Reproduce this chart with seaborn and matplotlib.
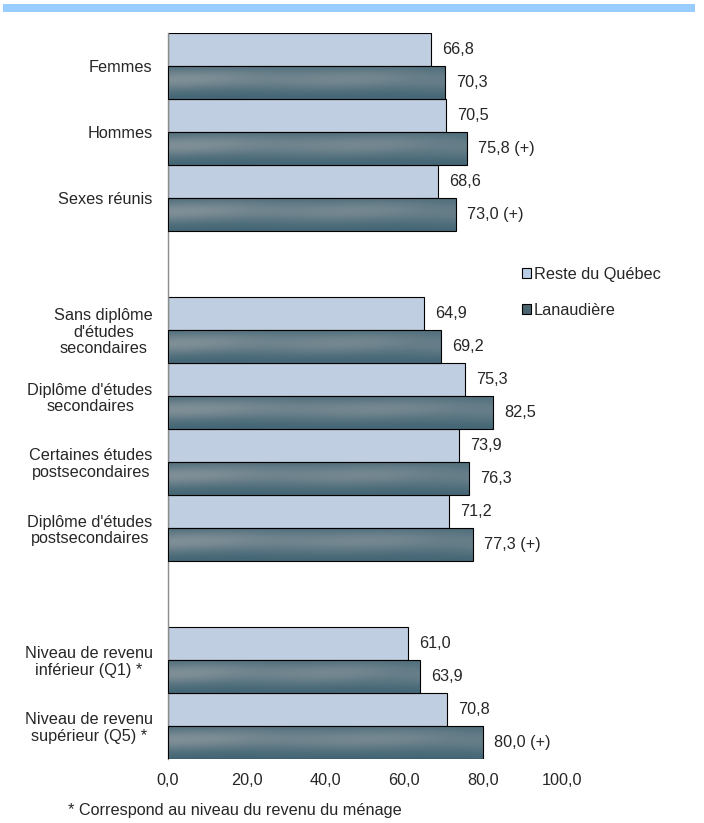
import seaborn as sns
import matplotlib.pyplot as plt
import matplotlib.patches as mpatches
import pandas as pd
import numpy as np

# Categories (blank entries are spacer rows between groups)
categories = [
    "Femmes", "Hommes", "Sexes réunis", " ",
    "Sans diplôme\nd'études\nsecondaires", "Diplôme d'études\nsecondaires",
    "Certaines études\npostsecondaires", "Diplôme d'études\npostsecondaires", "  ",
    "Niveau de revenu\ninférieur (Q1) *", "Niveau de revenu\nsupérieur (Q5) *",
]
reste_quebec = [66.8, 70.5, 68.6, np.nan, 64.9, 75.3, 73.9, 71.2, np.nan, 61.0, 70.8]
lanaudiere = [70.3, 75.8, 73.0, np.nan, 69.2, 82.5, 76.3, 77.3, np.nan, 63.9, 80.0]
# (+) marks a significant difference for Lanaudière
significant = [False, True, True, False, False, False, False, True, False, False, True]
x_ticks = [0, 20, 40, 60, 80, 100]
series_names = ["Reste du Québec", "Lanaudière"]

data = pd.DataFrame({
    "Catégorie": categories * 2,
    "Valeur": reste_quebec + lanaudiere,
    "Région": [series_names[0]] * len(categories) + [series_names[1]] * len(categories),
}).dropna()

light_color = "#B9CDE5"
dark_color = "#4F6B78"
FS = 11.7

sns.set_style("white")
plt.rcParams["font.family"] = ["Liberation Sans", "DejaVu Sans"]

fig = plt.figure(figsize=(7.04, 8.23), dpi=100)
ax = fig.add_axes([168 / 704, 1 - 759 / 823, (562 - 168) / 704, 726 / 823])

sns.barplot(
    data=data, y="Catégorie", x="Valeur", hue="Région",
    hue_order=series_names, order=categories,
    palette=[light_color, dark_color], width=1.0, dodge=True,
    edgecolor="black", linewidth=0.8, legend=False, ax=ax,
)


def fmt(v):
    return f"{v:.1f}".replace(".", ",")


def row_of(patch):
    return int(round(patch.get_y() + patch.get_height() / 2))


# muted streaky texture for the dark bars
rows = np.linspace(0, 1, 40)[:, None]
cols = np.linspace(0, 1, 200)[None, :]
band = np.exp(-((rows - 0.4) / 0.38) ** 2)
streak = 0.8 + 0.2 * np.sin(cols * 7.0 + rows * 3) * np.cos(cols * 3.0)
profile = band * streak
dark_rgb = np.array([0.25, 0.39, 0.45])
light_rgb = np.array([0.50, 0.56, 0.59])
tex = dark_rgb + profile[..., None] * (light_rgb - dark_rgb)

for patch in ax.containers[1]:
    if patch is None:
        continue
    x0, y0 = patch.get_x(), patch.get_y()
    w, h = patch.get_width(), patch.get_height()
    im = ax.imshow(tex, extent=(x0, x0 + w, y0 + h, y0), aspect="auto", zorder=2,
                   interpolation="bilinear")
    im.set_clip_path(patch)
    patch.set_facecolor("none")
    patch.set_zorder(3)

ax.set_xlim(0, 100)
ax.set_ylim(len(categories) - 0.5, -0.5)

# value labels
for patch in ax.containers[0]:
    i = row_of(patch)
    ax.annotate(fmt(reste_quebec[i]), (patch.get_x() + patch.get_width(), patch.get_y() + patch.get_height() / 2),
                xytext=(8, 0), textcoords="offset points", va="center", ha="left", fontsize=FS)
for patch in ax.containers[1]:
    i = row_of(patch)
    ax.annotate(fmt(lanaudiere[i]) + (" (+)" if significant[i] else ""),
                (patch.get_x() + patch.get_width(), patch.get_y() + patch.get_height() / 2),
                xytext=(8, 0), textcoords="offset points", va="center", ha="left", fontsize=FS)

ax.set_xticks(x_ticks)
ax.set_xticklabels([fmt(t) for t in x_ticks], fontsize=FS)
ax.tick_params(axis="both", length=0)
ax.tick_params(axis="x", pad=10)
ax.tick_params(axis="y", pad=11, labelsize=FS)
for lbl in ax.get_yticklabels():
    lbl.set_linespacing(1.1)
    lbl.set_multialignment("center")
ax.set_xlabel("")
ax.set_ylabel("")

for side in ["top", "right", "bottom"]:
    ax.spines[side].set_visible(False)
ax.spines["left"].set_color("#8C8C8C")
ax.spines["left"].set_linewidth(1.0)

# legend
handles = [
    mpatches.Patch(facecolor=light_color, edgecolor="black", linewidth=0.8, label=series_names[0]),
    mpatches.Patch(facecolor="#4A6470", edgecolor="black", linewidth=0.8, label=series_names[1]),
]
fig.legend(handles=handles, loc="upper left", bbox_to_anchor=(507 / 704, 1 - 252 / 823),
           frameon=False, fontsize=FS, handlelength=0.55, handleheight=0.55,
           handletextpad=0.2, labelspacing=1.3)

# top band
fig.patches.append(mpatches.Rectangle((3 / 704, 1 - 12 / 823), 692 / 704, 8 / 823,
                                      transform=fig.transFigure, facecolor="#99CCFF",
                                      edgecolor="none"))

fig.text(68 / 704, 1 - 810 / 823, "* Correspond au niveau du revenu du ménage",
         fontsize=FS, va="center", ha="left")

plt.savefig("out.png", dpi=100)
